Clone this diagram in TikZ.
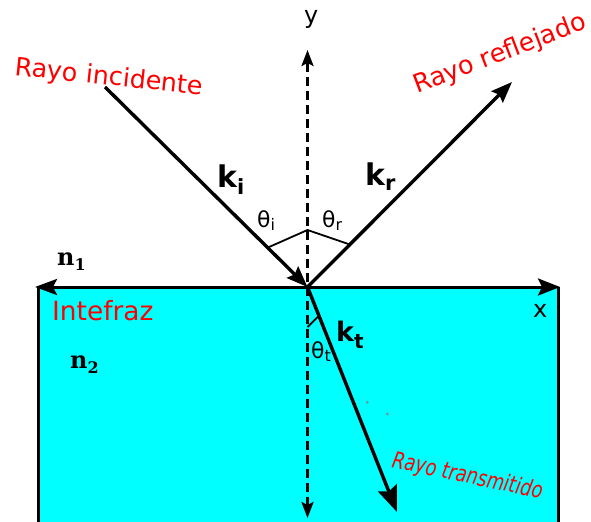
\documentclass[tikz,border=0pt]{standalone}
\usepackage{fontspec}
\setmainfont{DejaVu Sans}
\newfontfamily\seriff{DejaVu Serif}
\usetikzlibrary{arrows.meta,calc}
\definecolor{aquafill}{RGB}{0,255,255}
\definecolor{labred}{RGB}{255,0,0}
\newcommand\lsub[3]{\raisebox{-#1}{\fontsize{#2}{#2}\selectfont #3}}
\begin{document}
\begin{tikzpicture}[x=1bp,y=-1bp,
  ray/.style={line width=3.4bp, -{Stealth[length=21bp,width=16bp,inset=3bp]}},
  tray/.style={line width=3.4bp, -{Stealth[length=26bp,width=20bp,inset=4bp]}},
  axis/.style={line width=3bp, {Stealth[length=22bp,width=16bp,inset=4bp]}-{Stealth[length=22bp,width=17bp,inset=4bp]}},
  vaxis/.style={line width=2.6bp, dash pattern=on 9bp off 5bp, {Stealth[length=16bp,width=12bp,inset=3bp]}-{Stealth[length=16bp,width=12bp,inset=3bp]}},
  anglemark/.style={line width=1.8bp},
  redlbl/.style={text=labred, inner sep=0, anchor=base west, font=\fontsize{25.5}{27}\selectfont},
  klbl/.style={inner sep=0, anchor=base west, font=\fontsize{30}{32}\selectfont\bfseries},
  thlbl/.style={inner sep=0, anchor=base west, font=\fontsize{22}{24}\selectfont},
  axlbl/.style={inner sep=0, anchor=base west, font=\fontsize{24}{26}\selectfont},
  nlbl/.style={inner sep=0, anchor=base west, font=\fontsize{24}{26}\selectfont\seriff\bfseries},
]
\useasboundingbox (0,0) rectangle (591,522);
% medium 2
\fill[aquafill] (38,287) rectangle (558,522);
\draw[line width=3bp] (38,522) -- (38,287);
\draw[line width=3bp] (558,287) -- (558,522);

\coordinate (O) at (307.5,287);
\coordinate (Ls) at (105,87);
\coordinate (Re) at (512,82);
\coordinate (Te) at (397,512);
\coordinate (Yt) at (307.5,50);
\coordinate (Yb) at (307.5,518);
\coordinate (Xl) at (35,287);
\coordinate (Xr) at (560,287);

% axes
\draw[axis] (Xl) -- (Xr);
\draw[vaxis] (Yb) -- (Yt);

% rays
\draw[ray] (Ls) -- (O);
\draw[ray] (O) -- (Re);
\draw[tray] (O) -- (Te);

% angle marks
\coordinate (ai) at ($(O)!56bp!(Ls)$);
\coordinate (av) at ($(O)!57bp!(Yt)$);
\coordinate (ar) at ($(O)!60bp!(Re)$);
\draw[anglemark] (ai) -- (av) -- (ar);
\coordinate (tv) at ($(O)!40bp!(Yb)$);
\coordinate (tr) at ($(O)!31bp!(Te)$);
\draw[anglemark] (tv) -- (tr);

% labels
\node[axlbl] (ylab) at (304,24) {y};
\node[axlbl] (xlab) at (533,317) {x};
\node[klbl] (ki) at (217,188) {k\lsub{7bp}{21}{i}};
\node[klbl] (kr) at (365,186) {k\lsub{5bp}{21}{r}};
\node[klbl, font=\fontsize{27}{29}\selectfont\bfseries] (kt) at (336,341) {k\lsub{7bp}{20}{t}};
\node[thlbl] (thi) at (257,228) {θ\lsub{3bp}{16}{i}};
\node[thlbl] (thr) at (322,228) {θ\lsub{3bp}{16}{r}};
\node[thlbl] (tht) at (311,358) {θ\lsub{3bp}{16}{t}};
\node[nlbl] (n1) at (57,265) {n\lsub{5bp}{16}{1}};
\node[nlbl] (n2) at (70,368) {n\lsub{5bp}{16}{2}};
\node[redlbl, font=\fontsize{26.5}{28}\selectfont] (intf) at (52,320) {Intefraz};
\node[redlbl, rotate=-6] (rinc) at (14,75) {Rayo incidente};
\node[redlbl, rotate=21] (rref) at (417,94) {Rayo reflejado};
\node[redlbl, rotate=-12, xscale=0.78, font=\fontsize{23}{25}\selectfont\itshape] (rtra) at (391,467) {Rayo transmitido};

% tiny specks
\draw[gray, line width=0.5bp] (367.3,402.3) circle (1.1bp);
\draw[gray, line width=0.5bp] (387.3,414) circle (1.1bp);
\end{tikzpicture}
\end{document}
